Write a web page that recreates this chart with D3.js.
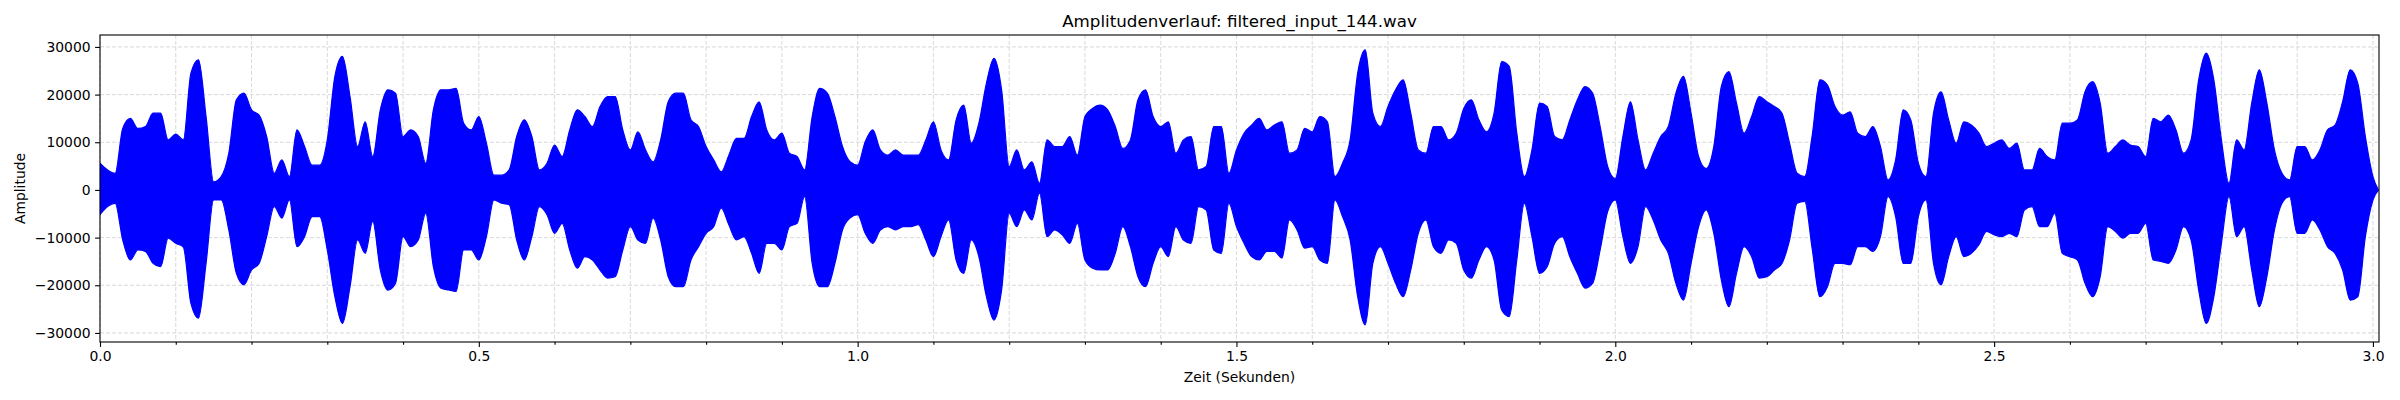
<!DOCTYPE html>
<html>
<head>
<meta charset="utf-8">
<script src="https://cdn.jsdelivr.net/npm/d3@7"></script>
<style>
  html, body { margin: 0; padding: 0; background: #fff; }
  svg { display: block; font-family: "DejaVu Sans", sans-serif; }
</style>
</head>
<body>
<svg id="chart" width="2400" height="400"></svg>
<script>
// ---- Data (envelope of the waveform, in thousands) ----
const titleText = "Amplitudenverlauf: filtered_input_144.wav";
const xLabelText = "Zeit (Sekunden)";
const yLabelText = "Amplitude";
const sampleStep = 0.01;      // seconds between envelope samples
const endTime = 3.007;        // last sample time
const xMax = 3.008;           // axis limit (duration)
const xMajorTicks = [0.0, 0.5, 1.0, 1.5, 2.0, 2.5, 3.0];
const xMinorTicks = [0.1,0.2,0.3,0.4,0.6,0.7,0.8,0.9,1.1,1.2,1.3,1.4,1.6,1.7,1.8,1.9,2.1,2.2,2.3,2.4,2.6,2.7,2.8,2.9];
const yTicks = [-30000, -20000, -10000, 0, 10000, 20000, 30000];
const yDomain = [-31900, 32500];

// upper envelope, one value per 0.01 s (k units), last value at endTime
const upperEnv = [
  5.6, 4.2, 3.5, 12.9, 15.0, 12.9, 13.3, 16.1, 16.1, 10.5,
  11.7, 10.5, 24.5, 27.3, 15.4, 1.7, 2.8, 7.7, 18.9, 20.3,
  16.8, 15.7, 11.2, 3.5, 6.3, 2.8, 12.6, 9.1, 5.2, 5.2,
  10.5, 23.8, 28.0, 19.6, 9.1, 14.3, 7.0, 16.8, 21.0, 20.3,
  11.2, 12.6, 11.2, 5.6, 16.8, 21.0, 21.0, 21.3, 14.0, 12.6,
  15.4, 9.8, 3.1, 3.1, 4.2, 11.2, 14.7, 11.2, 4.2, 5.6,
  9.4, 7.0, 12.6, 16.8, 15.4, 13.3, 17.5, 19.6, 19.6, 12.6,
  8.4, 12.2, 8.4, 5.9, 10.5, 18.5, 20.3, 20.3, 14.7, 13.3,
  9.1, 6.3, 3.8, 7.3, 10.8, 10.8, 15.4, 18.5, 12.6, 10.5,
  11.9, 7.7, 7.0, 4.2, 15.4, 21.3, 20.3, 15.4, 9.1, 5.9,
  5.2, 10.1, 12.6, 8.4, 7.3, 8.4, 7.3, 7.3, 7.3, 10.5,
  14.3, 8.4, 6.3, 14.7, 17.8, 9.8, 14.0, 22.4, 27.6, 21.0,
  4.9, 8.4, 4.2, 5.9, 1.4, 10.5, 9.1, 9.1, 11.2, 7.3,
  15.4, 17.1, 17.8, 16.8, 13.3, 8.7, 10.5, 18.9, 21.0, 15.4,
  13.3, 14.3, 7.7, 10.5, 11.2, 4.2, 4.9, 13.3, 13.3, 3.5,
  8.4, 11.9, 13.6, 15.0, 12.6, 13.6, 14.3, 7.7, 8.4, 12.9,
  12.2, 15.4, 14.3, 2.8, 5.6, 10.5, 24.5, 29.4, 16.1, 13.3,
  17.5, 21.0, 23.1, 16.1, 8.4, 7.7, 13.3, 13.3, 10.5, 11.9,
  17.1, 18.9, 14.7, 12.2, 16.1, 26.9, 25.9, 11.9, 2.8, 8.4,
  18.2, 17.5, 11.2, 10.5, 14.7, 18.9, 21.7, 20.3, 13.3, 4.9,
  2.4, 11.2, 18.5, 10.5, 4.2, 7.7, 11.2, 13.3, 20.3, 23.8,
  16.1, 7.0, 4.5, 9.1, 21.7, 24.8, 18.2, 11.9, 15.4, 19.6,
  18.5, 17.5, 16.1, 9.8, 3.5, 2.8, 11.5, 23.1, 22.0, 17.5,
  15.7, 16.4, 11.9, 11.2, 13.3, 9.1, 2.1, 6.3, 16.8, 14.7,
  5.6, 2.8, 16.1, 20.6, 14.7, 9.8, 14.3, 13.6, 11.9, 9.1,
  9.8, 10.5, 8.7, 9.8, 4.2, 4.2, 8.7, 7.0, 6.3, 14.0,
  14.0, 14.7, 20.6, 22.7, 18.2, 7.7, 9.1, 10.5, 9.4, 9.1,
  7.0, 15.0, 14.3, 15.7, 12.6, 7.7, 10.5, 23.1, 28.7, 23.1,
  10.5, 1.4, 10.5, 8.4, 18.2, 25.2, 18.2, 8.4, 3.5, 2.1,
  9.1, 9.1, 6.3, 8.4, 12.6, 13.6, 18.5, 25.2, 22.4, 11.2,
  2.8,
  0.1
];

// lower envelope, same sampling
const lowerEnv = [
  -5.2, -3.5, -2.8, -10.5, -14.7, -12.6, -12.9, -15.4, -16.1, -10.1,
  -11.2, -12.0, -23.8, -26.9, -15.4, -2.1, -2.1, -8.4, -17.5, -19.9,
  -16.8, -15.4, -9.8, -3.5, -5.9, -2.1, -11.9, -9.8, -5.6, -5.6,
  -12.6, -22.4, -28.0, -20.3, -10.5, -13.3, -6.6, -16.8, -21.0, -19.6,
  -9.8, -11.9, -10.5, -4.9, -16.1, -20.6, -21.0, -21.3, -12.6, -12.6,
  -14.7, -9.8, -2.1, -2.8, -3.1, -10.5, -14.7, -9.8, -3.5, -5.2,
  -9.1, -7.0, -12.6, -16.4, -14.0, -14.7, -16.8, -18.5, -18.2, -12.6,
  -7.7, -10.5, -11.2, -5.9, -10.5, -18.2, -20.3, -20.3, -14.7, -11.9,
  -9.1, -7.7, -3.8, -7.3, -10.5, -9.8, -13.3, -17.5, -11.2, -11.2,
  -12.6, -7.7, -7.0, -1.4, -15.4, -20.3, -20.3, -15.4, -8.4, -5.9,
  -5.2, -9.1, -11.2, -8.4, -7.7, -8.4, -7.7, -7.7, -7.3, -10.5,
  -14.0, -9.8, -6.3, -14.7, -17.5, -10.5, -14.0, -22.4, -27.3, -21.0,
  -4.9, -7.7, -4.2, -6.3, -0.7, -9.8, -8.4, -9.4, -11.2, -7.0,
  -14.7, -16.4, -16.8, -16.8, -13.3, -7.7, -11.9, -18.2, -20.3, -15.4,
  -11.9, -14.0, -7.7, -10.5, -11.2, -3.5, -4.2, -12.6, -13.3, -2.8,
  -7.7, -11.2, -14.0, -14.7, -12.9, -12.9, -14.3, -6.3, -8.4, -12.2,
  -11.9, -14.7, -15.4, -2.1, -5.6, -10.5, -22.4, -28.3, -15.4, -11.9,
  -15.4, -19.6, -22.4, -16.8, -9.1, -6.3, -11.9, -13.3, -10.5, -11.2,
  -16.8, -18.5, -14.7, -11.9, -14.7, -25.2, -26.6, -14.7, -2.8, -9.8,
  -17.5, -16.1, -11.2, -9.8, -14.0, -17.5, -20.6, -19.6, -12.6, -4.5,
  -2.1, -9.8, -15.4, -11.9, -3.5, -6.3, -10.5, -13.3, -19.6, -23.1,
  -15.4, -7.7, -4.2, -9.1, -18.9, -24.5, -17.5, -11.9, -14.0, -18.5,
  -18.2, -16.8, -15.4, -10.5, -2.8, -2.4, -12.5, -22.4, -20.3, -15.4,
  -15.4, -15.7, -11.9, -11.9, -12.9, -9.8, -1.4, -5.6, -15.4, -15.4,
  -5.6, -2.1, -15.4, -19.9, -14.0, -9.8, -14.0, -13.3, -11.5, -8.7,
  -9.4, -9.8, -9.1, -9.8, -4.2, -3.5, -7.7, -7.7, -4.9, -13.3,
  -14.0, -14.7, -19.6, -22.4, -18.2, -7.7, -8.7, -10.1, -9.1, -9.1,
  -7.0, -14.7, -15.0, -15.4, -12.6, -7.7, -10.5, -21.0, -28.0, -22.4,
  -11.2, -1.4, -9.8, -7.7, -16.8, -24.5, -18.2, -8.4, -2.8, -1.4,
  -9.1, -9.1, -6.3, -8.4, -11.9, -13.3, -16.8, -23.1, -22.4, -9.8,
  -2.1,
  -0.1
];

// ---- Build ----
const W = 2400, H = 400;
const m = { left: 100, right: 2379, top: 35, bottom: 342 };
const svg = d3.select("#chart");

const x = d3.scaleLinear().domain([0, xMax]).range([m.left, m.right]);
const y = d3.scaleLinear().domain(yDomain).range([m.bottom, m.top]);

const timeOf = (i) => (i === upperEnv.length - 1 ? endTime : i * sampleStep);
const pts = upperEnv.map((u, i) => ({ t: timeOf(i), hi: u * 1000, lo: lowerEnv[i] * 1000 }));

// grid
const grid = svg.append("g").attr("stroke", "#cfcfcf").attr("stroke-width", 0.8)
  .attr("stroke-dasharray", "4,2").attr("fill", "none");
xMajorTicks.concat(xMinorTicks).forEach(t => {
  grid.append("line").attr("x1", x(t)).attr("x2", x(t)).attr("y1", m.top).attr("y2", m.bottom);
});
yTicks.forEach(v => {
  grid.append("line").attr("x1", m.left).attr("x2", m.right).attr("y1", y(v)).attr("y2", y(v));
});

// waveform envelope
const clip = svg.append("clipPath").attr("id", "plotclip").append("rect")
  .attr("x", m.left).attr("y", m.top).attr("width", m.right - m.left).attr("height", m.bottom - m.top);

const area = d3.area()
  .x(d => x(d.t))
  .y0(d => y(d.lo))
  .y1(d => y(d.hi))
  .curve(d3.curveMonotoneX);

svg.append("path")
  .datum(pts)
  .attr("clip-path", "url(#plotclip)")
  .attr("d", area)
  .attr("fill", "#0000ff")
  .attr("stroke", "#0000ff")
  .attr("stroke-width", 1.2)
  .attr("stroke-linejoin", "round");

// axes
const fmtY = v => (v < 0 ? "\u2212" + Math.abs(v) : String(v));
const xAxis = d3.axisBottom(x).tickValues(xMajorTicks).tickFormat(d3.format(".1f")).tickSize(4.9).tickPadding(4.5);
const xAxisMinor = d3.axisBottom(x).tickValues(xMinorTicks).tickFormat("").tickSize(2.8);
const yAxis = d3.axisLeft(y).tickValues(yTicks).tickFormat(fmtY).tickSize(4.9).tickPadding(4.5);

const gx = svg.append("g").attr("transform", `translate(0,${m.bottom})`).call(xAxis);
const gxm = svg.append("g").attr("transform", `translate(0,${m.bottom})`).call(xAxisMinor);
const gy = svg.append("g").attr("transform", `translate(${m.left},0)`).call(yAxis);
[gx, gxm, gy].forEach(g => {
  g.select(".domain").remove();
  g.selectAll(".tick line").attr("stroke", "#000").attr("stroke-width", 1.1);
  g.selectAll(".tick text").attr("fill", "#000").style("font-family", "DejaVu Sans").style("font-size", "13.9px");
});
gx.selectAll(".tick text").attr("dy", "0.71em");
gy.selectAll(".tick text").attr("dy", "0.32em");

// frame
svg.append("rect").attr("x", m.left).attr("y", m.top)
  .attr("width", m.right - m.left).attr("height", m.bottom - m.top)
  .attr("fill", "none").attr("stroke", "#000").attr("stroke-width", 1.1);

// labels
svg.append("text").attr("x", (m.left + m.right) / 2).attr("y", 26.7)
  .attr("text-anchor", "middle").style("font-size", "16.7px").attr("fill", "#000").text(titleText);
svg.append("text").attr("x", (m.left + m.right) / 2).attr("y", 382)
  .attr("text-anchor", "middle").style("font-size", "13.9px").attr("fill", "#000").text(xLabelText);
svg.append("text").attr("transform", `translate(25,${(m.top + m.bottom) / 2}) rotate(-90)`)
  .attr("text-anchor", "middle").style("font-size", "13.9px").attr("fill", "#000").text(yLabelText);
</script>
</body>
</html>
